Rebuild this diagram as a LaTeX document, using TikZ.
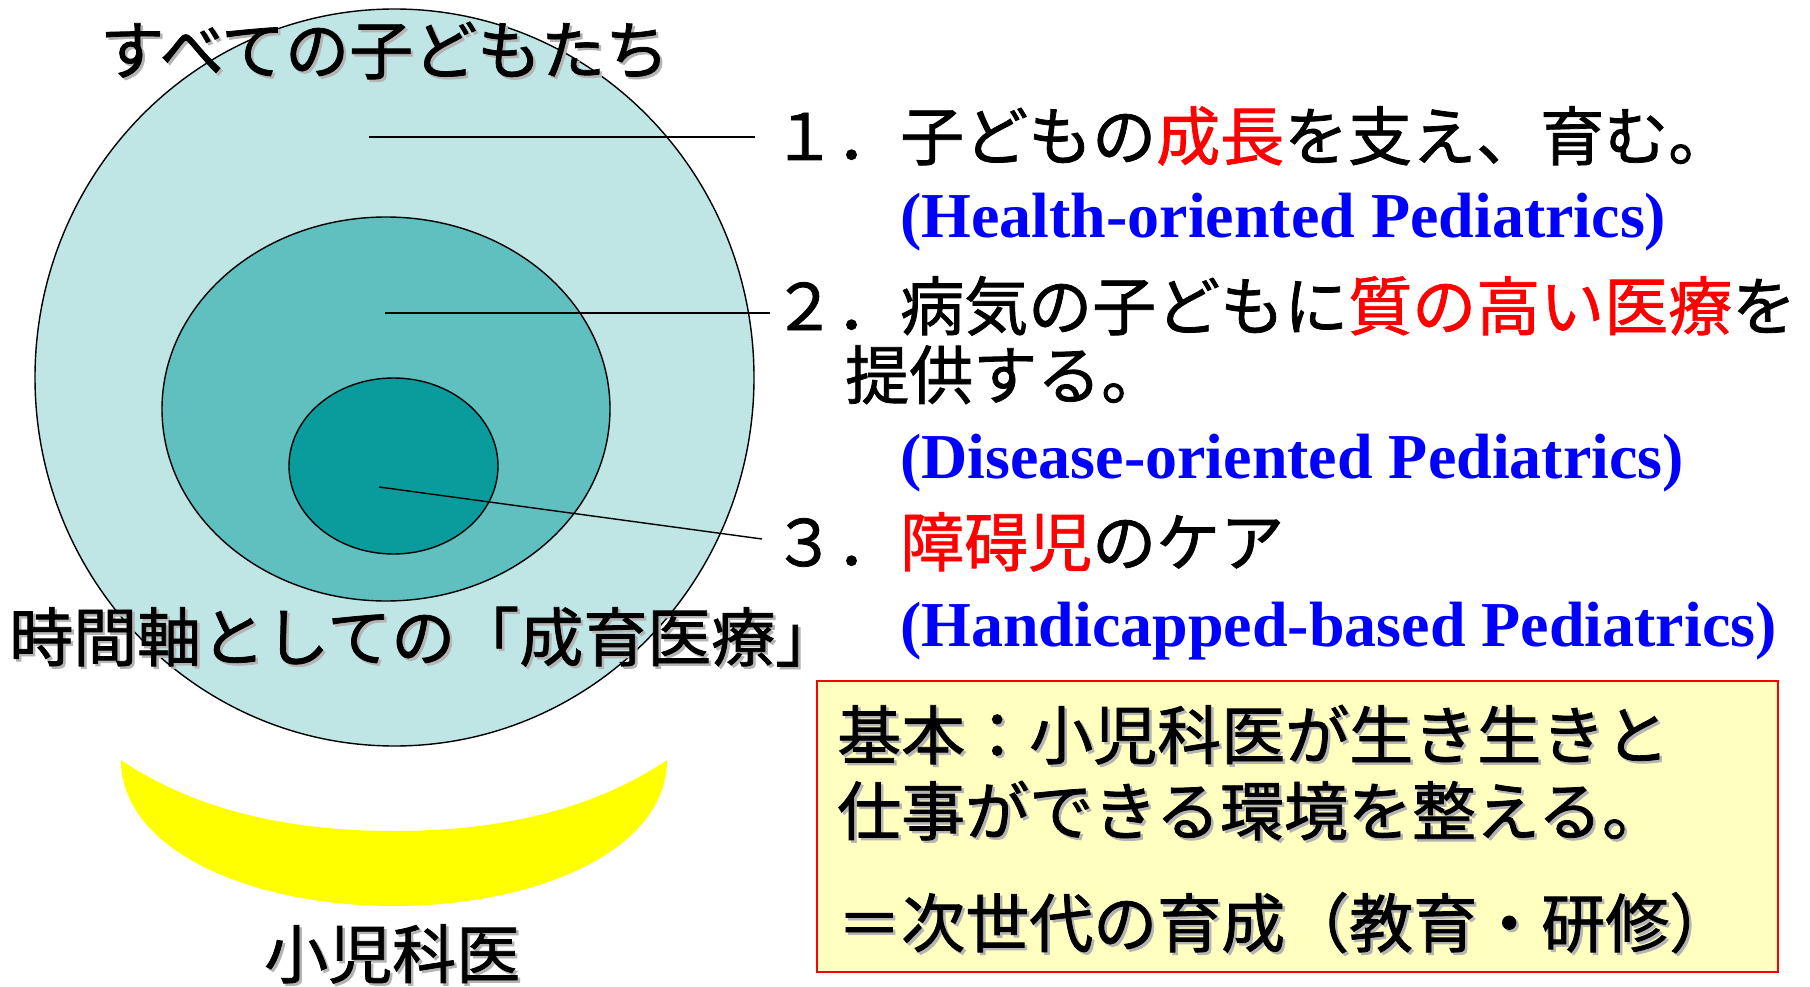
\documentclass[tikz,border=0pt]{standalone}
\usepackage{fontspec}
\setmainfont{Liberation Serif}
\newfontfamily\jp[FakeBold=1.2]{Noto Sans CJK JP}
\definecolor{outerc}{HTML}{BFE5E5}
\definecolor{midc}{HTML}{60BFBF}
\definecolor{innerc}{HTML}{0A9C9C}
\definecolor{crescent}{HTML}{FFFF00}
\definecolor{boxfill}{HTML}{FFFFC0}
\definecolor{shadowgray}{HTML}{B4B4B4}
\definecolor{hlred}{HTML}{FF0000}
\definecolor{engblue}{HTML}{0000FF}
\newcommand\shd[1]{\leavevmode\rlap{\kern2.5pt\raisebox{-2.5pt}{\color{shadowgray}#1}}#1}
\newcommand\rd[1]{\textcolor{hlred}{#1}}
\begin{document}
\begin{tikzpicture}[x=1pt,y=-1pt,
  ring/.style={draw=black,line width=1.4pt},
  conn/.style={draw=black,line width=1.4pt},
  jptext/.style={anchor=base west,inner sep=0pt,text=black,font=\jp\fontsize{64}{64}\selectfont},
  engtext/.style={anchor=base west,inner sep=0pt,text=engblue,font=\bfseries\fontsize{64}{64}\selectfont}]
\useasboundingbox (0,0) rectangle (1810,987);
% circles
\filldraw[ring,fill=outerc] (394.5,377.5) ellipse [x radius=359.5, y radius=368.5];
\filldraw[ring,fill=midc] (386,409) ellipse [x radius=224, y radius=192];
\filldraw[ring,fill=innerc] (393.5,466) ellipse [x radius=104.5, y radius=88];
% crescent
\fill[crescent] (121,760) .. controls (121,850) and (250,906) .. (394,906)
  .. controls (538,906) and (667,850) .. (667,760)
  .. controls (590,812) and (495,831) .. (394,831)
  .. controls (293,831) and (198,812) .. (121,760) -- cycle;
% connectors
\coordinate (l1a) at (369,137); \coordinate (l1b) at (755,137);
\coordinate (l2a) at (385,313); \coordinate (l2b) at (770,313);
\coordinate (l3a) at (379,487); \coordinate (l3b) at (762,539);
\draw[conn] (l1a) -- (l1b);
\draw[conn] (l2a) -- (l2b);
\draw[conn] (l3a) -- (l3b);
% labels
\node[jptext] (title) at (100,74) {\shd{すべての子どもたち}};
\node[jptext] (axis) at (9,661) {\shd{時間軸としての「成育医療」}};
\node[jptext] (ped) at (264,978) {\shd{小児科医}};
\node[jptext] (i1) at (772,160) {１．子どもの\rd{成長}を支え、育む。};
\node[engtext] (e1) at (900,237) {(Health-oriented Pediatrics)};
\node[jptext] (i2) at (772,330) {２．病気の子どもに\rd{質の高い医療}を};
\node[jptext] (i2b) at (845,399) {提供する。};
\node[engtext] (e2) at (900,478) {(Disease-oriented Pediatrics)};
\node[jptext] (i3) at (772,566) {３．\rd{障碍児}のケア};
\node[engtext] (e3) at (900,646) {(Handicapped-based Pediatrics)};
% box
\filldraw[fill=boxfill,draw=hlred,line width=1.6pt] (817,681) rectangle (1778,972);
\node[jptext] (b1) at (837,759) {\shd{基本：小児科医が生き生きと}};
\node[jptext] (b2) at (837,835) {\shd{仕事ができる環境を整える。}};
\node[jptext] (b3) at (837,947) {\shd{＝次世代の育成（教育・研修）}};
\end{tikzpicture}
\end{document}
